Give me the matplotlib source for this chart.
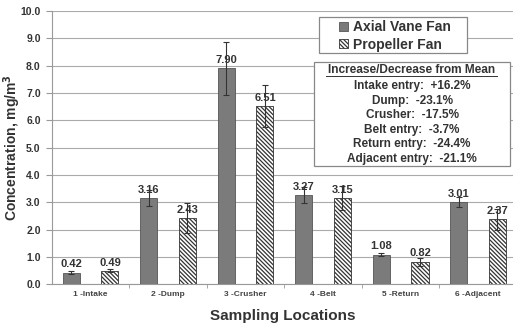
import numpy as np
import matplotlib
matplotlib.use("Agg")
import matplotlib.pyplot as plt

plt.rcParams["font.family"] = ["Liberation Sans", "DejaVu Sans"]
plt.rcParams["font.weight"] = "bold"
plt.rcParams["axes.labelweight"] = "bold"
plt.rcParams["hatch.linewidth"] = 0.9

locations = ["1 -Intake", "2 -Dump", "3 -Crusher", "4 -Belt", "5 -Return", "6 -Adjacent"]
axial = [0.42, 3.16, 7.90, 3.27, 1.08, 3.01]
propeller = [0.49, 2.43, 6.51, 3.15, 0.82, 2.37]
axial_err = [0.05, 0.30, 0.97, 0.30, 0.05, 0.18]
prop_err = [0.05, 0.55, 0.77, 0.45, 0.15, 0.37]
changes = ["Intake entry:  +16.2%", "Dump:  -23.1%", "Crusher:  -17.5%",
           "Belt entry:  -3.7%", "Return entry:  -24.4%", "Adjacent entry:  -21.1%"]

fig = plt.figure(figsize=(5.13, 3.27), dpi=100)
ax = fig.add_axes([0.101, 0.131, 0.899, 0.835])
x = np.arange(len(locations))
w = 0.22
ax.bar(x - 0.25, axial, w, color="#7b7b7b", edgecolor="#555555", lw=0.6,
       label="Axial Vane Fan", zorder=3)
ax.bar(x + 0.25, propeller, w, color="white", edgecolor="#333333", hatch="\\\\\\\\\\\\\\\\",
       lw=0.6, label="Propeller Fan", zorder=3)
ax.errorbar(x - 0.25, axial, yerr=axial_err, fmt="none", ecolor="#333333",
            elinewidth=0.8, capsize=2, capthick=0.8, zorder=4)
ax.errorbar(x + 0.25, propeller, yerr=prop_err, fmt="none", ecolor="#333333",
            elinewidth=0.8, capsize=2, capthick=0.8, zorder=4)
for xi, v in zip(x - 0.25, axial):
    ax.text(xi, v + 0.12, f"{v:.2f}", ha="center", va="bottom", fontsize=8,
            color="#333333", fontweight="bold", zorder=5)
for xi, v in zip(x + 0.25, propeller):
    ax.text(xi, v + 0.12, f"{v:.2f}", ha="center", va="bottom", fontsize=8,
            color="#333333", fontweight="bold", zorder=5)

ax.set_xlim(-0.5, 5.45)
ax.set_ylim(0, 10)
ax.set_yticks(np.arange(0, 10.01, 1.0))
ax.set_yticklabels([f"{t:.1f}" for t in np.arange(0, 10.01, 1.0)], fontsize=7.5,
                   color="#333333", fontweight="bold")
ax.set_xticks(x)
ax.set_xticklabels(locations, fontsize=6, color="#444444", fontweight="bold")
ax.set_xticks(np.arange(0.5, 5.5, 1.0), minor=True)
ax.tick_params(axis="x", which="major", length=0, pad=5)
ax.tick_params(axis="x", which="minor", length=3, color="#999999")
ax.tick_params(axis="y", length=4, color="#999999", pad=4)
ax.grid(axis="y", color="#aaaaaa", lw=0.8, zorder=0)
for s in ["top", "right"]:
    ax.spines[s].set_visible(False)
for s in ["left", "bottom"]:
    ax.spines[s].set_color("#999999")
ax.set_ylabel("Concentration, mg/m$^\\mathbf{3}$", fontsize=10, color="#333333",
              fontweight="bold")
ax.yaxis.set_label_coords(-0.062, 0.5)
ax.set_xlabel("Sampling Locations", fontsize=11, color="#333333",
              fontweight="bold", labelpad=8)

# legend box drawn separately so the entries sit indented like the reference
ax.add_patch(plt.Rectangle((319 / 513, 1 - 53 / 327), 148 / 513, 36 / 327,
                           transform=fig.transFigure, facecolor="white",
                           edgecolor="#888888", lw=0.9, zorder=9, clip_on=False))
leg = ax.legend(loc="upper left", bbox_to_anchor=(335 / 513, 1 - 16 / 327),
                bbox_transform=fig.transFigure,
                prop={"size": 10, "weight": "bold"},
                frameon=False, handlelength=0.65,
                handleheight=0.65, handletextpad=0.35, borderpad=0.3, labelspacing=0.25,
                borderaxespad=0)
for t in leg.get_texts():
    t.set_color("#333333")
leg.set_zorder(10)

# change box
ax.add_patch(plt.Rectangle((314 / 513, 1 - 166 / 327), 196 / 513, 104 / 327,
                           transform=fig.transFigure, facecolor="white",
                           edgecolor="#888888", lw=0.9, zorder=10, clip_on=False))
cx = 412 / 513
fig.text(cx, 1 - 70 / 327, "Increase/Decrease from Mean", ha="center", va="center",
         fontsize=8.6, color="#333333", fontweight="bold", zorder=11)
fig.add_artist(plt.Line2D([326 / 513, 497 / 513], [1 - 76 / 327, 1 - 76 / 327],
                          color="#333333", lw=0.7, zorder=11))
for i, c in enumerate(changes):
    fig.text(cx, 1 - (86 + i * 14.6) / 327, c, ha="center", va="center",
             fontsize=8.5, color="#333333", fontweight="bold", zorder=11)

fig.savefig("out.png", dpi=100)
